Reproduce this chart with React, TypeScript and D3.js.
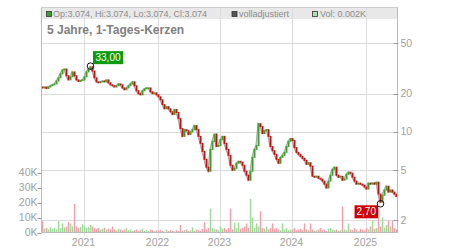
import React from "react";
import * as d3 from "d3";

// ---- data ----
const firstOpen = 22.6;
const closes2020 = [22.2, 22.6, 22.0, 22.6, 23.1, 23.5, 23.9, 25.2, 26.7, 28.7, 30.8, 31.3, 27.7, 25.7, 27.2, 29.7, 27.7, 25.7, 25.0, 25.4, 25.7];
const closes2021 = [27.2, 29.7, 31.3, 32.6, 30.2, 26.7, 24.8, 24.4, 24.8, 25.2, 24.8, 25.7, 24.4, 23.5, 23.1, 22.6, 23.1, 23.9, 23.5, 22.2, 21.5, 22.2, 23.1, 23.9, 24.8, 23.1, 21.1, 20.0, 19.6, 21.1, 21.8, 22.2, 22.2, 20.7, 20.0, 20.3, 19.6];
const closes2022 = [18.9, 17.9, 16.4, 15.2, 15.8, 15.2, 14.4, 13.7, 15.0, 14.2, 12.7, 10.6, 9.2, 10.4, 10.2, 9.5, 10.0, 10.4, 11.2, 10.4, 9.2, 8.1, 7.0, 6.06, 5.25, 4.88, 7.26, 8.4, 9.6, 7.65, 7.8];
const closes2023 = [8.7, 9.2, 8.1, 7.26, 6.52, 5.44, 4.97, 5.15, 5.64, 5.85, 5.75, 5.44, 4.88, 4.54, 4.15, 4.88, 6.29, 7.26, 7.8, 11.6, 11.0, 9.7, 10.2, 10.4, 9.2, 7.65, 7.1, 6.64, 6.06, 5.64, 6.29, 6.52, 6.88, 7.65, 8.4, 8.85];
const closes2024 = [8.55, 7.5, 6.88, 6.64, 6.4, 6.17, 5.95, 5.54, 5.7, 5.35, 4.46, 4.38, 4.46, 4.3, 4.23, 4.08, 3.86, 3.6, 4.08, 4.54, 5.06, 5.25, 4.54, 4.38, 4.45, 4.15, 4.23, 4.62, 4.8, 4.71, 4.38, 4.08, 3.86, 3.93, 3.86, 3.79, 3.66];
const closes2025 = [3.53, 3.93, 3.86, 3.95, 3.86, 4.0, 3.22, 2.78, 3.16, 3.47, 3.72, 3.34, 3.47, 3.34, 3.22, 3.074];

const volumes2020 = [7.5, 2.5, 3, 2, 3.5, 2.5, 3, 2, 7.5, 3, 6, 3.5, 4, 7, 6, 4, 19, 4, 3, 3.5, 5.5];
const volumes2021 = [4, 3, 3.5, 5, 4, 3, 2.5, 3, 2, 2.5, 3, 2, 2.5, 2, 4, 2, 1.5, 2.5, 2, 1.5, 2, 3, 1.5, 2, 1, 1.5, 2, 1, 1.5, 2.5, 1, 1.5, 1, 2, 1.5, 1, 1.5];
const volumes2022 = [1, 1.5, 1, 0.5, 2, 1, 1.5, 1, 0.8, 1.5, 1, 5, 1, 1.5, 2, 1, 1.5, 3.5, 1, 2, 1.5, 1, 2.5, 7, 2, 3, 16, 3, 2.5, 2, 1.5];
const volumes2023 = [4, 2.5, 3, 2, 3, 16, 2, 6.5, 3, 6.5, 2.5, 3, 4, 6, 3, 22.5, 10, 3, 6, 4, 14, 3, 2.5, 4, 2, 3, 6, 2.5, 3, 2, 1.5, 6, 2, 3, 1.5, 2];
const volumes2024 = [2, 3, 1.5, 2, 2.5, 1.5, 6, 2, 1.5, 6, 2, 1, 1.5, 2, 3, 1.5, 2, 1, 2.5, 3, 2, 1.5, 2, 1, 1.5, 17.5, 2, 1.5, 6, 2, 1.5, 3, 2, 1, 2.5, 2, 1.5];
const volumes2025 = [3, 2, 4, 8, 2.5, 3, 16, 4, 10, 3, 5, 8, 4, 8, 3, 2];

const yearLabels = ["2021", "2022", "2023", "2024", "2025"];
const priceTicks = [50, 20, 10, 5, 2];
const volumeTicks = [0, 10, 20, 30, 40];
const highMark = { index: 24, value: 33.0, label: "33,00" };
const lowMark = { index: 169, value: 2.7, label: "2,70" };
const title = "5 Jahre, 1-Tages-Kerzen";
const legendOHLC = "Op:3.074, Hi:3.074, Lo:3.074, Cl:3.074";
const legendAdj = "volladjustiert";
const legendVol = "Vol: 0.002K";

// ---- derived ----
const closeGroups = [closes2020, closes2021, closes2022, closes2023, closes2024, closes2025];
const closes = closeGroups.flat();
const volumes = [volumes2020, volumes2021, volumes2022, volumes2023, volumes2024, volumes2025].flat();
const yearStarts: number[] = [];
{
  let acc = 0;
  closeGroups.forEach((g, gi) => {
    if (gi > 0) yearStarts.push(acc);
    acc += g.length;
  });
}
const candles = closes.map((c, i) => ({ i, open: i === 0 ? firstOpen : closes[i - 1], close: c, vol: volumes[i] }));

const W = 450, H = 250;
const L = 41.5, R = 397.5, TOP = 7.5, BOT = 232.5, HEAD = 19;
const FONT = "'Liberation Sans', Arial, sans-serif";
const GREEN = "#3aa12a";
const RED = "#c80f0f";

function textWidth(s: string, fs: number) {
  let w = 0;
  for (const ch of s) w += ch === "," || ch === "." ? 0.278 : 0.556;
  return w * fs;
}

export default function App() {
  const x = d3.scaleLinear().domain([0, closes.length]).range([L, R]);
  const y = d3.scaleLog().domain([2, 50]).range([220.3, 43.3]);
  const v = d3.scaleLinear().domain([0, 40]).range([BOT, 172.5]);
  const step = x(1) - x(0);

  const line = d3
    .line<{ i: number; close: number }>()
    .x((d) => x(d.i) + step / 2 - 0.5)
    .y((d) => y(d.close));

  const hx = x(highMark.index) + step / 2;
  const hy = y(highMark.value);
  const lx = x(lowMark.index) + step / 2;
  const ly = y(lowMark.value);
  const hw = textWidth(highMark.label, 10) + 5;
  const lw = textWidth(lowMark.label, 10) + 4;

  return (
    <svg width={W} height={H} style={{ position: "absolute", left: 0, top: 0, background: "#fff" }} fontFamily={FONT}>
      {/* header band */}
      <rect x={L} y={TOP} width={R - L} height={HEAD - TOP} fill="#e8e8e8" />
      {/* horizontal grid */}
      {priceTicks.map((t) => (
        <line key={"hg" + t} x1={L} x2={R} y1={Math.round(y(t)) + 0.5} y2={Math.round(y(t)) + 0.5} stroke="#dcdcdc" />
      ))}
      {/* vertical grid */}
      {yearStarts.map((s, k) => (
        <line key={"vg" + k} x1={Math.round(x(s)) + 0.5} x2={Math.round(x(s)) + 0.5} y1={TOP} y2={BOT + 3} stroke="#dcdcdc" />
      ))}
      {/* volume bars */}
      {candles.map((d) => (
        <rect
          key={"v" + d.i}
          x={x(d.i) + 0.3}
          y={v(d.vol)}
          width={1.5}
          height={v(0) - v(d.vol)}
          fill={d.close > d.open ? "#9fd99a" : d.close < d.open ? "#f0a2ab" : "#b8b8b8"}
        />
      ))}
      {/* adjusted line */}
      <path d={line(candles) || ""} fill="none" stroke="#aaaaaa" strokeWidth={1.2} />
      {/* candles */}
      {candles.map((d) => {
        const y0 = y(d.open), y1 = y(d.close);
        return (
          <rect
            key={"c" + d.i}
            x={x(d.i) + 0.1}
            y={Math.min(y0, y1) - 0.5}
            width={1.9}
            height={Math.max(1.5, Math.abs(y1 - y0) + 1)}
            fill={d.close >= d.open ? GREEN : RED}
          />
        );
      })}
      {/* frame */}
      <line x1={L} x2={R} y1={TOP} y2={TOP} stroke="#cccccc" />
      <line x1={L} x2={L} y1={TOP} y2={BOT} stroke="#bbbbbb" />
      <line x1={R} x2={R} y1={TOP} y2={BOT} stroke="#bbbbbb" />
      <line x1={L} x2={R} y1={BOT} y2={BOT} stroke="#bbbbbb" />
      {/* right price axis */}
      {priceTicks.map((t) => (
        <g key={"pt" + t}>
          <line x1={R - 4} x2={R + 1} y1={Math.round(y(t)) + 0.5} y2={Math.round(y(t)) + 0.5} stroke="#999" />
          <text x={R + 3} y={y(t)} dy="0.35em" fontSize={10.5} fill="#a0a0a0">
            {d3.format("d")(t)}
          </text>
        </g>
      ))}
      {/* left volume axis */}
      {volumeTicks.map((t) => (
        <g key={"vt" + t}>
          <line x1={L - 4} x2={L} y1={Math.round(v(t)) + 0.5} y2={Math.round(v(t)) + 0.5} stroke="#999" />
          <text x={L - 4} y={v(t)} dy="0.35em" fontSize={10.5} fill="#a0a0a0" textAnchor="end">
            {t + "K"}
          </text>
        </g>
      ))}
      {/* year labels */}
      {yearStarts.map((s, k) => (
        <text key={"yl" + k} x={x(s)} y={246} fontSize={10.5} fill="#a0a0a0" textAnchor="middle">
          {yearLabels[k]}
        </text>
      ))}
      {/* legend */}
      <rect x={46.5} y={11.5} width={5} height={5} fill="#3aa12a" stroke="#333" strokeWidth={0.8} />
      <text x={53} y={17} fontSize={9} fill="#8c8c8c">{legendOHLC}</text>
      <rect x={232} y={11.5} width={5} height={5} fill="#555" stroke="#333" strokeWidth={0.8} />
      <text x={239} y={17} fontSize={9} fill="#8c8c8c">{legendAdj}</text>
      <rect x={312.5} y={11.5} width={5} height={5} fill="#b3e0b0" stroke="#333" strokeWidth={0.8} />
      <text x={320} y={17} fontSize={9} fill="#8c8c8c">{legendVol}</text>
      <text x={47} y={34} fontSize={12} fontWeight="bold" fill="#808080">{title}</text>
      {/* high marker */}
      <circle cx={hx} cy={hy} r={3.3} fill="none" stroke="#111" strokeWidth={1} />
      <rect x={hx + 2.5} y={hy - 15} width={hw} height={13} fill="#0a9a0a" />
      <text x={hx + 2.5 + hw / 2} y={hy - 5} fontSize={10} fill="#fff" textAnchor="middle">{highMark.label}</text>
      {/* low marker */}
      <circle cx={lx} cy={ly} r={3.3} fill="none" stroke="#111" strokeWidth={1} />
      <rect x={lx - 2.5 - lw} y={ly + 1.5} width={lw} height={13} fill="#cc0000" />
      <text x={lx - 2.5 - lw / 2} y={ly + 11.5} fontSize={10} fill="#fff" textAnchor="middle">{lowMark.label}</text>
    </svg>
  );
}
